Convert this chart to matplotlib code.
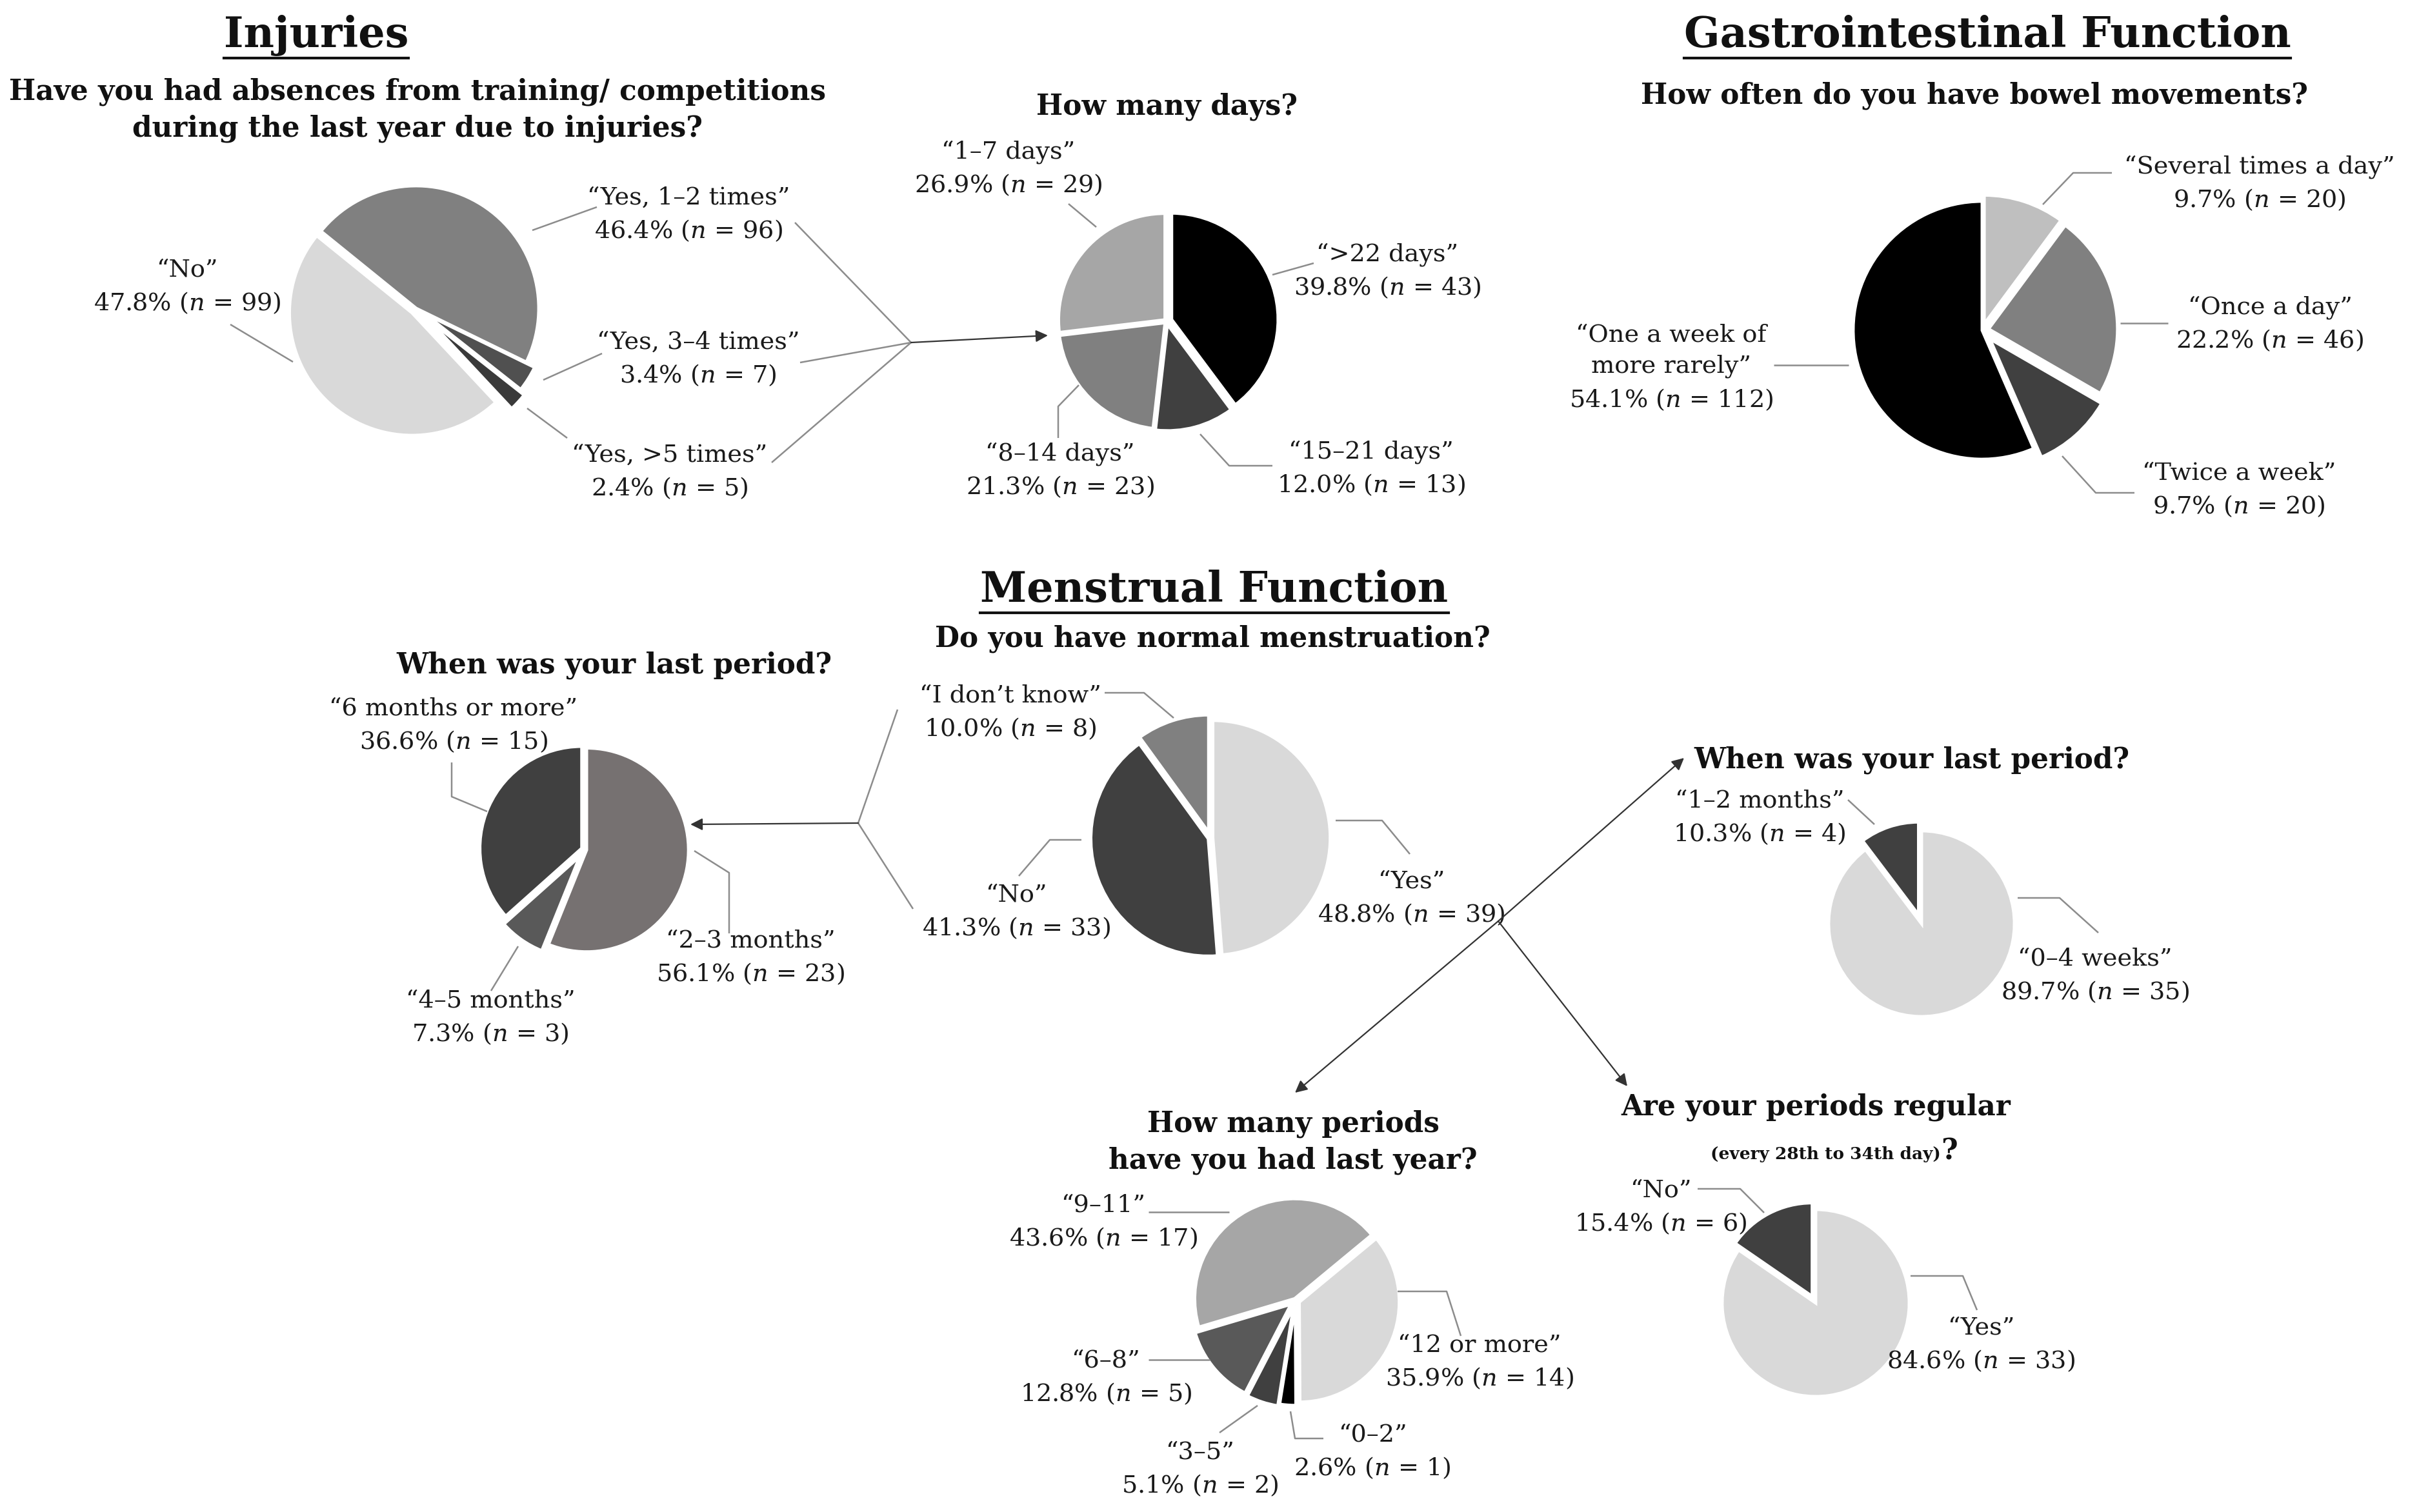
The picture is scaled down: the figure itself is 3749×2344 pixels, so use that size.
import matplotlib
matplotlib.use('Agg')
import matplotlib.pyplot as plt

W, H = 3749, 2344

# ---- data ----
inj_labels = ['“Yes, 1–2 times”', '“Yes, 3–4 times”', '“Yes, >5 times”', '“No”']
inj_pct = [46.4, 3.4, 2.4, 47.8]
inj_n = [96, 7, 5, 99]

days_labels = ['“>22 days”', '“15–21 days”', '“8–14 days”', '“1–7 days”']
days_pct = [39.8, 12.0, 21.3, 26.9]
days_n = [43, 13, 23, 29]

gi_labels = ['“Several times a day”', '“Once a day”', '“Twice a week”', '“One a week of\nmore rarely”']
gi_pct = [9.7, 22.2, 9.7, 54.1]
gi_n = [20, 46, 20, 112]

men_labels = ['“Yes”', '“No”', '“I don’t know”']
men_pct = [48.8, 41.3, 10.0]
men_n = [39, 33, 8]

lastA_labels = ['“2–3 months”', '“4–5 months”', '“6 months or more”']
lastA_pct = [56.1, 7.3, 36.6]
lastA_n = [23, 3, 15]

lastB_labels = ['“0–4 weeks”', '“1–2 months”']
lastB_pct = [89.7, 10.3]
lastB_n = [35, 4]

yr_labels = ['“12 or more”', '“0–2”', '“3–5”', '“6–8”', '“9–11”']
yr_pct = [35.9, 2.6, 5.1, 12.8, 43.6]
yr_n = [14, 1, 2, 5, 17]

reg_labels = ['“Yes”', '“No”']
reg_pct = [84.6, 15.4]
reg_n = [33, 6]

plt.rcParams['font.family'] = 'DejaVu Serif'
plt.rcParams['mathtext.fontset'] = 'custom'
plt.rcParams['mathtext.rm'] = 'DejaVu Serif'
plt.rcParams['mathtext.it'] = 'DejaVu Serif:italic'

fig = plt.figure(figsize=(W / 100, H / 100), dpi=100)
ax = fig.add_axes([0, 0, 1, 1])


def Y(y):
    # picture coords run top-down
    return H - y


def pie(vals, cols, cx, cy, r, start, expl):
    ax.pie(vals, colors=cols, startangle=start, counterclock=False,
           center=(cx, Y(cy)), radius=r, explode=[e * r for e in expl],
           wedgeprops=dict(edgecolor='white', linewidth=3.5))


def fmt(lab, p, n):
    return f'{lab}\n{p:.1f}% ($n$ = {n})'


def labels(labs, pcts, ns, pos):
    for lab, p, n, (x, y) in zip(labs, pcts, ns, pos):
        ax.text(x, Y(y), fmt(lab, p, n), ha='center', va='center',
                fontsize=27.5, color='#1a1a1a', linespacing=1.45)


def lead(pts, color='#8c8c8c', lw=1.8):
    ax.plot([p[0] for p in pts], [Y(p[1]) for p in pts], color=color, lw=lw,
            solid_capstyle='butt')


def arrow(p0, p1):
    ax.annotate('', xy=(p1[0], Y(p1[1])), xytext=(p0[0], Y(p0[1])),
                arrowprops=dict(arrowstyle='-|>', color='#333333', lw=1.6,
                                mutation_scale=28, shrinkA=0, shrinkB=0))


titles = []


def title(txt, x, y):
    titles.append(ax.text(x, Y(y), txt, ha='center', va='center',
                          fontsize=47, fontweight='bold', color='#111111'))


def sub(txt, x, y, size=31.5):
    ax.text(x, Y(y), txt, ha='center', va='center', fontsize=size,
            fontweight='bold', color='#111111', linespacing=1.4)


# ---------------- Injuries ----------------
title('Injuries', 490, 55)
sub('Have you had absences from training/ competitions\nduring the last year due to injuries?', 647, 171)
pie(inj_pct, ['#808080', '#505050', '#3a3a3a', '#d9d9d9'], 645, 478, 190, 141,
    [0.0, 0.08, 0.13, 0.05])
labels(inj_labels, inj_pct, inj_n, [(1067, 333), (1082, 557), (1038, 732), (290, 445)])
lead([(825, 357), (925, 321)])
lead([(842, 589), (933, 548)])
lead([(817, 633), (879, 679)])
lead([(357, 503), (454, 561)])
lead([(1232, 345), (1412, 531)])
lead([(1240, 562), (1412, 531)])
lead([(1196, 717), (1412, 531)])
arrow((1412, 531), (1624, 520))

# ---------------- How many days ----------------
sub('How many days?', 1809, 165)
pie(days_pct, ['#000000', '#404040', '#808080', '#a6a6a6'], 1808, 498, 165, 90,
    [0.05, 0.03, 0.02, 0.02])
labels(days_labels, days_pct, days_n, [(2150, 421), (2125, 727), (1643, 730), (1563, 262)])
lead([(1656, 316), (1699, 352)])
lead([(1972, 426), (2036, 408)])
lead([(1672, 597), (1640, 630), (1640, 679)])
lead([(1860, 673), (1905, 722), (1972, 722)])

# ---------------- Gastrointestinal ----------------
title('Gastrointestinal Function', 3080, 55)
sub('How often do you have bowel movements?', 3060, 148)
pie(gi_pct, ['#bfbfbf', '#808080', '#404040', '#000000'], 3072, 512, 200, 90,
    [0.05, 0.05, 0.09, 0.0])
labels(gi_labels, gi_pct, gi_n, [(3502, 285), (3518, 503), (3470, 760), (2590, 570)])
lead([(3166, 317), (3213, 268), (3273, 268)])
lead([(3286, 501), (3360, 501)])
lead([(3196, 707), (3248, 764), (3308, 764)])
lead([(2749, 566), (2865, 566)])

# ---------------- Menstrual ----------------
title('Menstrual Function', 1882, 915)
sub('Do you have normal menstruation?', 1879, 990)
pie(men_pct, ['#d9d9d9', '#404040', '#808080'], 1876, 1299, 182, 90,
    [0.02, 0.02, 0.05])
labels(men_labels, men_pct, men_n, [(2187, 1393), (1575, 1414), (1566, 1105)])
lead([(1712, 1074), (1773, 1074), (1819, 1113)])
lead([(1676, 1302), (1627, 1302), (1579, 1358)])
lead([(2070, 1272), (2142, 1272), (2185, 1324)])

# last period (No / don't know branch)
sub('When was your last period?', 952, 1031)
pie(lastA_pct, ['#767171', '#595959', '#404040'], 906, 1317, 158, 90,
    [0.02, 0.08, 0.03])
labels(lastA_labels, lastA_pct, lastA_n, [(1163, 1485), (760, 1578), (703, 1125)])
lead([(700, 1182), (700, 1235), (755, 1258)])
lead([(1076, 1319), (1130, 1353), (1130, 1447)])
lead([(803, 1467), (761, 1536)])
lead([(1391, 1100), (1330, 1276)])
lead([(1415, 1409), (1330, 1276)])
arrow((1330, 1276), (1070, 1278))

# Yes branch
fork = (2322, 1428)
arrow(fork, (2610, 1175))
arrow(fork, (2007, 1694))
arrow(fork, (2522, 1684))

sub('When was your last period?', 2963, 1178)
pie(lastB_pct, ['#d9d9d9', '#404040'], 2978, 1432, 144, 90, [0.0, 0.1])
labels(lastB_labels, lastB_pct, lastB_n, [(3247, 1513), (2727, 1268)])
lead([(2864, 1240), (2905, 1278)])
lead([(3127, 1392), (3192, 1392), (3252, 1446)])

sub('How many periods\nhave you had last year?', 2004, 1771)
pie(yr_pct, ['#d9d9d9', '#000000', '#404040', '#595959', '#a6a6a6'], 2008, 2016, 155, 39.6,
    [0.04, 0.05, 0.07, 0.06, 0.02])
labels(yr_labels, yr_pct, yr_n, [(2293, 2112), (2127, 2251), (1860, 2278), (1714, 2136), (1710, 1895)])
lead([(1780, 1879), (1905, 1879)])
lead([(2166, 2002), (2242, 2002), (2264, 2071)])
lead([(1780, 2108), (1875, 2108)])
lead([(1949, 2179), (1890, 2221)])
lead([(2000, 2188), (2007, 2230), (2051, 2230)])

sub('Are your periods regular', 2814, 1716)
ax.text(3008, Y(1797), '(every 28th to 34th day)', ha='right', va='baseline',
        fontsize=19, fontweight='bold', color='#111111')
ax.text(3008, Y(1797), '?', ha='left', va='baseline',
        fontsize=31.5, fontweight='bold', color='#111111')
pie(reg_pct, ['#d9d9d9', '#404040'], 2814, 2020, 145, 90, [0.0, 0.08])
labels(reg_labels, reg_pct, reg_n, [(3070, 2085), (2574, 1872)])
lead([(2631, 1843), (2697, 1843), (2734, 1880)])
lead([(2961, 1978), (3042, 1978), (3064, 2031)])

ax.set_xlim(0, W)
ax.set_ylim(0, H)
ax.set_aspect('auto')
ax.axis('off')

# underline the section titles
fig.canvas.draw()
rend = fig.canvas.get_renderer()
inv = ax.transData.inverted()
for t in titles:
    bb = t.get_window_extent(rend)
    (x0, y0), (x1, y1) = inv.transform([[bb.x0, bb.y0], [bb.x1, bb.y1]])
    ax.plot([x0, x1], [y0 - 3, y0 - 3], color='#111111', lw=3)

fig.savefig('out.png', dpi=100, facecolor='white')
